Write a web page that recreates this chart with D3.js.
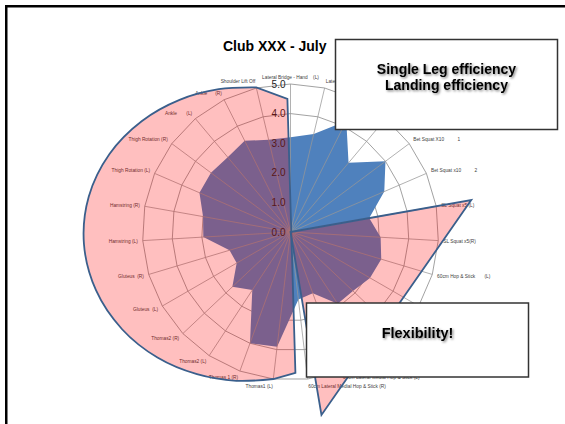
<!DOCTYPE html>
<html>
<head>
<meta charset="utf-8">
<script src="https://cdn.jsdelivr.net/npm/d3@7"></script>
<style>
  body { margin: 0; background: #fff; }
  svg { display: block; font-family: "Liberation Sans", Arial, sans-serif; }
  .cat { white-space: pre; }
</style>
</head>
<body>
<svg id="chart" width="565" height="424"></svg>
<script>
// categories, clockwise from the top
var categories = [
  "Lateral Bridge - Hand    (L)", "Lateral Bridge - Hand    (R)", "Lateral Bridge - Elbow (L)",
  "Lateral Bridge - Elbow (R)", "Bet Squat X10          1", "Bet Squat x10          2",
  "SL Squat x5 (L)", "SL Squat x5(R)", "60cm Hop & Stick       (L)", "60cm Hop & Stick       (R)",
  "30cm Drop & Stick (L)", "30cm Drop & Stick (R)", "60cm Lateral Medial Hop & Stick (L)",
  "60cm Lateral Medial Hop & Stick (R)", "Thomas1 (L)", "Thomas 1 (R)", "Thomas2 (L)",
  "Thomas2 (R)", "Gluteus  (L)", "Gluteus  (R)", "Hamstring (L)", "Hamstring (R)",
  "Thigh Rotation (L)", "Thigh Rotation (R)", "Ankle       (L)", "Ankle      (R)", "Shoulder Lift Off"
];
var scores = [3.2, 3.4, 4.2, 3.05, 4.0, 3.45, 2.7, 3.05, 3.2, 3.1, 2.9, 2.9, 2.2, 2.3,
              3.9, 4.0, 2.35, 2.7, 2.1, 2.15, 2.95, 3.0, 3.35, 3.35, 3.3, 3.45, 3.2];
var valueTicks = [0, 1, 2, 3, 4, 5];
// highlight overlays: [position on the category axis, value]
var flexArea = [[13.35, 4.76], [14, 5.0], [15, 5.35], [16, 5.75], [17, 6.18], [18, 6.57],
                [19, 6.86], [20, 6.99], [21, 6.92], [22, 6.66], [23, 6.27], [24, 5.83],
                [25, 5.4], [26, 5.02], [26.9, 4.5]];
var singleLegArea = [[0, 0], [6, 6.2], [12.78, 6.27]];

var svg = d3.select("#chart");
var cx = 290.5, cy = 232;
var n = categories.length;

var r = d3.scaleLinear().domain([0, 5]).range([0, 148]);
var angle = d3.scaleLinear().domain([0, n]).range([0, 2 * Math.PI]);

svg.append("rect").attr("width", 565).attr("height", 424).attr("fill", "#fff");

var defs = svg.append("defs");
defs.append("filter").attr("id", "shadow")
  .attr("x", "-10%").attr("y", "-30%").attr("width", "120%").attr("height", "160%")
  .append("feDropShadow")
  .attr("dx", 1.3).attr("dy", 1.3).attr("stdDeviation", 0.8)
  .attr("flood-color", "#000").attr("flood-opacity", 0.5);

var g = svg.append("g").attr("transform", "translate(" + cx + "," + cy + ")");

// rings
var ring = d3.lineRadial()
  .angle(function(d, i) { return angle(i); })
  .radius(function(d) { return r(d); })
  .curve(d3.curveLinearClosed);

g.selectAll(".ring")
  .data(valueTicks.slice(1))
  .enter()
  .append("path")
  .attr("class", "ring")
  .attr("d", function(v) { return ring(categories.map(function() { return v; })); })
  .attr("fill", "none")
  .attr("stroke", "#8a8a8a")
  .attr("stroke-width", 0.8);

// blue series
g.append("path")
  .attr("d", ring(scores))
  .attr("fill", "#4F81BD");

// spokes
g.selectAll(".spoke")
  .data(categories)
  .enter()
  .append("line")
  .attr("class", "spoke")
  .attr("x2", function(d, i) { return d3.pointRadial(angle(i), r(5))[0]; })
  .attr("y2", function(d, i) { return d3.pointRadial(angle(i), r(5))[1]; })
  .attr("stroke", "#979797")
  .attr("stroke-width", 0.75);

// value labels
g.selectAll(".tick")
  .data(valueTicks)
  .enter()
  .append("text")
  .attr("x", -5)
  .attr("y", function(v) { return -r(v); })
  .attr("dy", "0.35em")
  .attr("text-anchor", "end")
  .attr("font-size", 10)
  .attr("fill", "#222")
  .text(function(v) { return v.toFixed(1); });

// category labels
g.selectAll(".cat")
  .data(categories)
  .enter()
  .append("text")
  .attr("class", "cat")
  .attr("x", function(d, i) { return Math.sin(angle(i)) * (r(5) + 5); })
  .attr("y", function(d, i) { return -Math.cos(angle(i)) * (r(5) + 7); })
  .attr("dy", "0.35em")
  .attr("text-anchor", function(d, i) {
    var s = Math.sin(angle(i));
    return s > 0.05 ? "start" : (s < -0.05 ? "end" : "middle");
  })
  .attr("font-size", 4.8)
  .attr("fill", "#404040")
  .text(function(d) { return d; });

// overlays
function pt(d) { return d3.pointRadial(angle(d[0]), r(d[1])); }
var smooth = d3.lineRadial()
  .angle(function(d) { return angle(d[0]); })
  .radius(function(d) { return r(d[1]); })
  .curve(d3.curveCatmullRom);

var mid = flexArea.slice(1, flexArea.length - 1);
var leftPath = "M" + pt(flexArea[0]) + "L" + smooth(mid).slice(1) +
  "L" + pt(flexArea[flexArea.length - 1]) + "Z";

var straight = d3.lineRadial()
  .angle(function(d) { return angle(d[0]); })
  .radius(function(d) { return r(d[1]); })
  .curve(d3.curveLinearClosed);

g.selectAll(".overlay")
  .data([leftPath, straight(singleLegArea)])
  .enter()
  .append("path")
  .attr("class", "overlay")
  .attr("d", function(d) { return d; })
  .attr("fill", "rgba(255,0,0,0.25)")
  .attr("stroke", "#3A5F8C")
  .attr("stroke-width", 1.8)
  .attr("stroke-linejoin", "miter");

// title
svg.append("text")
  .attr("x", 223).attr("y", 51)
  .attr("font-size", 14).attr("font-weight", "bold")
  .text("Club XXX - July");

// text boxes
var boxes = [
  { x: 335.5, y: 39.5, w: 222, h: 90, lines: ["Single Leg efficiency", "Landing efficiency"], y0: 74, size: 14 },
  { x: 306.5, y: 303, w: 222, h: 74, lines: ["Flexibility!"], y0: 338, size: 14.5 }
];
boxes.forEach(function(b) {
  svg.append("rect")
    .attr("x", b.x).attr("y", b.y).attr("width", b.w).attr("height", b.h)
    .attr("fill", "#fff").attr("stroke", "#333").attr("stroke-width", 1.5);
  b.lines.forEach(function(t, i) {
    svg.append("text")
      .attr("x", b.x + b.w / 2).attr("y", b.y0 + i * 16)
      .attr("text-anchor", "middle")
      .attr("font-size", b.size).attr("font-weight", "bold")
      .attr("filter", "url(#shadow)")
      .text(t);
  });
});

// frame
svg.append("rect")
  .attr("x", 6.25).attr("y", 6.25).attr("width", 700).attr("height", 600)
  .attr("fill", "none").attr("stroke", "#000").attr("stroke-width", 2.5);
</script>
</body>
</html>
